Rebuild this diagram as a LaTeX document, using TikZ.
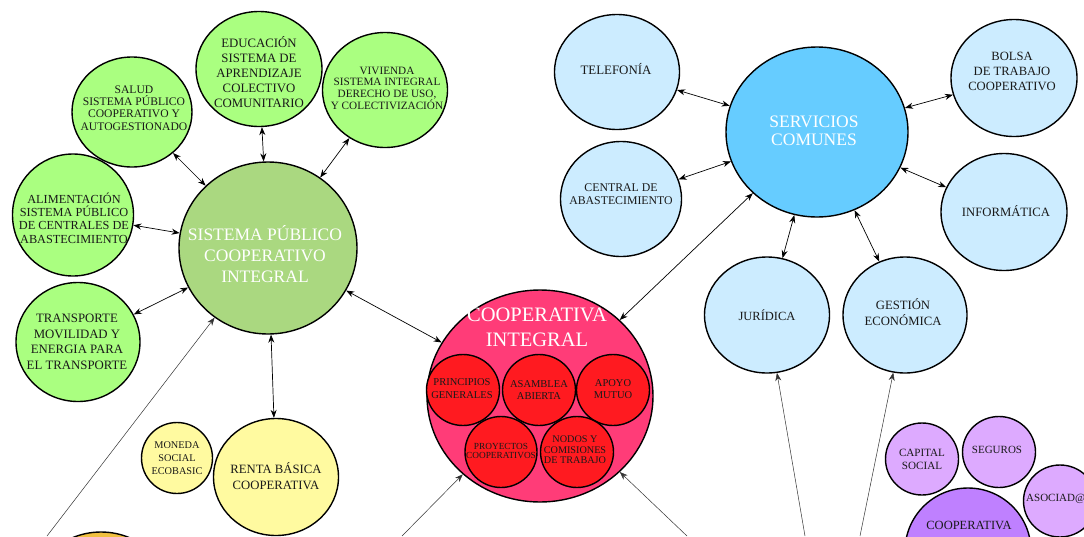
\documentclass[tikz,border=0pt]{standalone}
\usepackage{fontspec}
\setmainfont{Liberation Serif}
\usetikzlibrary{shapes.geometric,arrows.meta}

\definecolor{verdeclaro}{RGB}{170,255,128}
\definecolor{verde}{RGB}{170,216,128}
\definecolor{amarillo}{RGB}{255,250,160}
\definecolor{naranja}{RGB}{240,192,64}
\definecolor{rosa}{RGB}{255,60,120}
\definecolor{rojo}{RGB}{255,26,32}
\definecolor{azul}{RGB}{102,204,255}
\definecolor{celeste}{RGB}{204,236,255}
\definecolor{lila}{RGB}{221,170,255}
\definecolor{morado}{RGB}{191,128,255}

\tikzset{
  bubble/.style={ellipse, draw=black, line width=1.4pt, inner sep=0pt, fill=#1},
  sz/.style 2 args={minimum width=#1pt, minimum height=#2pt},
  fs/.style 2 args={font=\fontsize{#1}{#2}\selectfont, align=center, text=black!90, inner sep=0pt},
  link/.style={{Stealth[length=8pt,width=6pt]}-{Stealth[length=8pt,width=6pt]}, line width=0.7pt},
  feed/.style={-{Stealth[length=8pt,width=6pt]}, line width=0.5pt, black!80},
}

\begin{document}
\begin{tikzpicture}[x=1pt,y=-1pt]
\useasboundingbox (0,0) rectangle (1084,536);
\fill[white] (0,0) rectangle (1084,536);
\clip (0,0) rectangle (1084,536);

% sistema publico
\node[bubble=verde, sz={178}{172}] (spci) at (268,248) {};
\node[bubble=verdeclaro, sz={120}{110}] (salud) at (132,112) {};
\node[bubble=verdeclaro, sz={126}{115}] (educ) at (259,69) {};
\node[bubble=verdeclaro, sz={125}{115}] (viv) at (385,90) {};
\node[bubble=verdeclaro, sz={121}{122}] (alim) at (73,215) {};
\node[bubble=verdeclaro, sz={124}{119}] (transp) at (78,342) {};
\node[bubble=amarillo, sz={125}{117}] (renta) at (276,477) {};
\node[bubble=amarillo, sz={71}{71}] (moneda) at (177,458) {};
\node[bubble=naranja, sz={148}{148}] (naranja) at (101,606) {};

\node[fs={17.5}{21}, text=white] (spcitxt) at (265,254) {SISTEMA PÚBLICO\\COOPERATIVO\\INTEGRAL};
\node[fs={11.6}{12.3}] (saludtxt) at (134,108) {SALUD\\SISTEMA PÚBLICO\\COOPERATIVO Y\\AUTOGESTIONADO};
\node[fs={12.8}{15}] (eductxt) at (259,72) {EDUCACIÓN\\SISTEMA DE\\APRENDIZAJE\\COLECTIVO\\COMUNITARIO};
\node[fs={11.2}{11.7}] (vivtxt) at (387,88) {VIVIENDA\\SISTEMA INTEGRAL\\DERECHO DE USO,\\Y COLECTIVIZACIÓN};
\node[fs={12.3}{13.3}] (alimtxt) at (74,218) {ALIMENTACIÓN\\SISTEMA PÚBLICO\\DE CENTRALES DE\\ABASTECIMIENTO};
\node[fs={12.8}{15.5}] (transptxt) at (77,342) {TRANSPORTE\\MOVILIDAD Y\\ENERGIA PARA\\EL TRANSPORTE};
\node[fs={12.7}{16}] (rentatxt) at (276,476) {RENTA BÁSICA\\COOPERATIVA};
\node[fs={10.3}{13}] (monedatxt) at (177,458) {MONEDA\\SOCIAL\\ECOBASIC};

% cooperativa integral
\node[bubble=rosa, sz={226}{212}] (coop) at (540,396) {};
\node[fs={20.5}{25}, text=white] (cooptxt) at (537,327) {COOPERATIVA\\INTEGRAL};
\node[bubble=rojo, sz={73}{71}] (princ) at (463,390) {};
\node[bubble=rojo, sz={73}{71}] (asamb) at (539,390) {};
\node[bubble=rojo, sz={73}{71}] (apoyo) at (613,390) {};
\node[bubble=rojo, sz={72}{71}] (proy) at (501,452) {};
\node[bubble=rojo, sz={73}{71}] (nodos) at (577,452) {};
\node[fs={10.5}{13}] (princtxt) at (462,389) {PRINCIPIOS\\GENERALES};
\node[fs={10.5}{12}] (asambtxt) at (539,390) {ASAMBLEA\\ABIERTA};
\node[fs={10.5}{12}] (apoyotxt) at (613,389) {APOYO\\MUTUO};
\node[fs={9.3}{9.5}] (proytxt) at (501,451) {PROYECTOS\\COOPERATIVOS};
\node[fs={10.2}{10.5}] (nodostxt) at (575,450) {NODOS Y\\COMISIONES\\DE TRABAJO};

% servicios comunes
\node[bubble=azul, sz={182}{170}] (serv) at (817,132) {};
\node[bubble=celeste, sz={125}{115}] (tel) at (617,72) {};
\node[bubble=celeste, sz={121}{115}] (central) at (621,199) {};
\node[bubble=celeste, sz={126}{117}] (bolsa) at (1014,78) {};
\node[bubble=celeste, sz={126}{117}] (inform) at (1004,212) {};
\node[bubble=celeste, sz={125}{116}] (jur) at (767,315) {};
\node[bubble=celeste, sz={124}{116}] (gest) at (905,315) {};

\node[fs={17.5}{18}, text=white] (servtxt) at (814,131) {SERVICIOS\\COMUNES};
\node[fs={12.9}{15}] (teltxt) at (616,69) {TELEFONÍA};
\node[fs={11.8}{12.5}] (centraltxt) at (621,194) {CENTRAL DE\\ABASTECIMIENTO};
\node[fs={12.6}{15}] (bolsatxt) at (1012,71) {BOLSA\\DE TRABAJO\\COOPERATIVO};
\node[fs={12.7}{15}] (informtxt) at (1006,211) {INFORMÁTICA};
\node[fs={12.5}{15}] (jurtxt) at (767,315) {JURÍDICA};
\node[fs={12.7}{16}] (gesttxt) at (903,312) {GESTIÓN\\ECONÓMICA};

% cooperativa (morado)
\node[bubble=morado, sz={126}{126}] (coopm) at (968,551) {};
\node[bubble=lila, sz={73}{72}] (capital) at (922,459) {};
\node[bubble=lila, sz={73}{71}] (seguros) at (999,452) {};
\node[bubble=lila, sz={73}{72}] (asociad) at (1060,501) {};
\node[fs={11.1}{13}] (capitaltxt) at (922,459) {CAPITAL\\SOCIAL};
\node[fs={11}{13}] (segurostxt) at (997,450) {SEGUROS};
\node[fs={11}{13}, anchor=west] (asociadtxt) at (1026,499) {ASOCIAD@};
\node[fs={12.5}{15}] (coopmtxt) at (969,525) {COOPERATIVA};

% conexiones
\draw[link] (salud) -- (spci);
\draw[link] (educ) -- (spci);
\draw[link] (viv) -- (spci);
\draw[link] (alim) -- (spci);
\draw[link] (transp) -- (spci);
\draw[link] (spci) -- (renta);
\draw[link] (spci) -- (coop);
\draw[link] (coop) -- (serv);
\draw[link] (tel) -- (serv);
\draw[link] (central) -- (serv);
\draw[link] (bolsa) -- (serv);
\draw[link] (inform) -- (serv);
\draw[link] (serv) -- (jur);
\draw[link] (serv) -- (gest);

% lineas que vienen de abajo
\coordinate (b1) at (47,536);
\coordinate (b2) at (402,536);
\coordinate (b3) at (687,536);
\coordinate (b4) at (805,536);
\coordinate (b5) at (860,536);
\draw[feed] (b1) -- (spci);
\draw[feed] (b2) -- (coop);
\draw[feed] (b3) -- (coop);
\draw[feed] (b4) -- (jur);
\draw[feed] (b5) -- (gest);
\end{tikzpicture}
\end{document}
